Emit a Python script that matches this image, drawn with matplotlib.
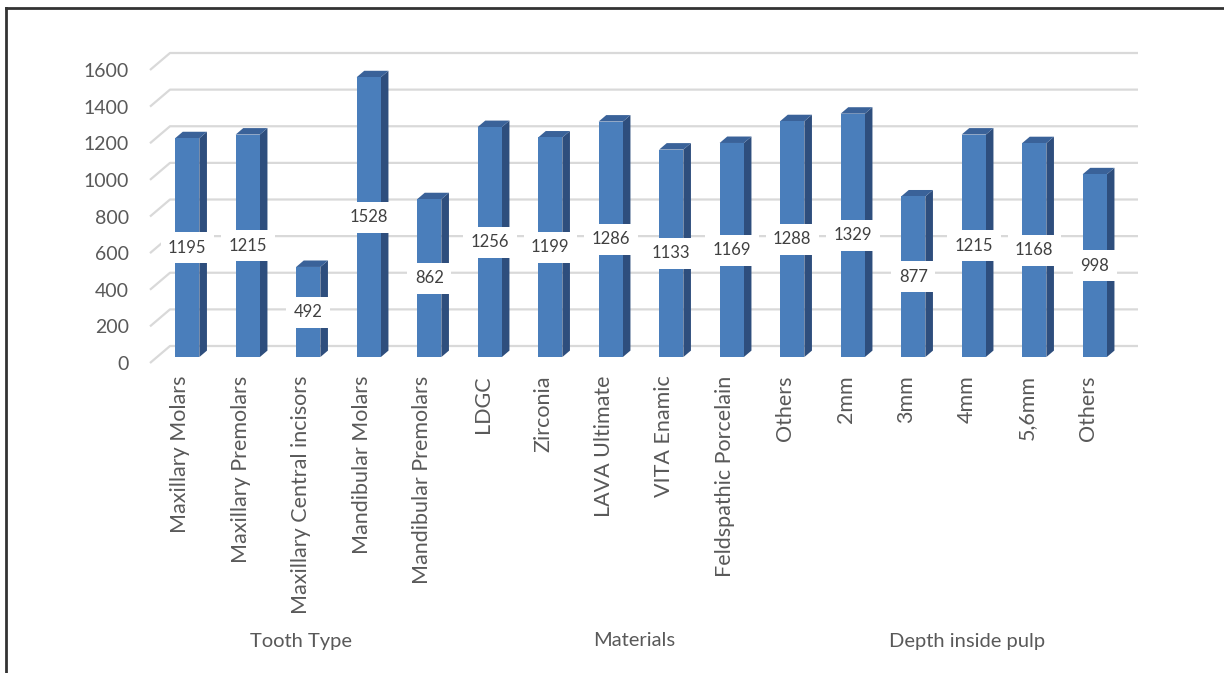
import matplotlib
matplotlib.use("Agg")
import matplotlib.pyplot as plt
from matplotlib.patches import Polygon
from matplotlib.lines import Line2D

categories = ["Maxillary Molars", "Maxillary Premolars", "Maxillary Central incisors",
              "Mandibular Molars", "Mandibular Premolars", "LDGC", "Zirconia",
              "LAVA Ultimate", "VITA Enamic", "Feldspathic Porcelain", "Others",
              "2mm", "3mm", "4mm", "5,6mm", "Others"]
values = [1195, 1215, 492, 1528, 862, 1256, 1199, 1286, 1133, 1169, 1288,
          1329, 877, 1215, 1168, 998]
groups = ["Tooth Type", "Materials", "Depth inside pulp"]
group_sizes = [5, 6, 5]
yticks = [0, 200, 400, 600, 800, 1000, 1200, 1400, 1600]

plt.rcParams['font.family'] = ['Lato', 'DejaVu Sans']

W, H = 1224, 673
fig = plt.figure(figsize=(W / 100, H / 100), dpi=100)

# axes front plane geometry (pixels)
left_px, right_px = 150, 1118
y0_px, ytop_px = 363, 70
ax = fig.add_axes([left_px / W, (H - y0_px) / H, (right_px - left_px) / W, (y0_px - ytop_px) / H])
n = len(categories)
ax.set_xlim(0, n)
ax.set_ylim(0, 1600)
for s in ax.spines.values():
    s.set_visible(False)

pxx = (right_px - left_px) / n
pxy = (y0_px - ytop_px) / 1600
DX = 20 / pxx
DY = 17 / pxy

grid_c = "#D9D9D9"
for v in yticks:
    ax.plot([0, DX, n + DX], [v, v + DY, v + DY], color=grid_c, lw=1.6,
            clip_on=False, zorder=1, solid_capstyle='butt')

front_c = "#4A7EBB"
side_c = "#2E4E7D"
top_c = "#3A6299"
bw = 0.4
f0, f1 = 0.35, 0.73
for i, v in enumerate(values):
    c = i + 0.5
    x0 = c - bw / 2 + f0 * DX
    x1 = c + bw / 2 + f0 * DX
    yb = f0 * DY
    yt = v + f0 * DY
    ddx = (f1 - f0) * DX
    ddy = (f1 - f0) * DY
    ax.add_patch(Polygon([[x1, yb], [x1 + ddx, yb + ddy], [x1 + ddx, yt + ddy], [x1, yt]],
                         closed=True, facecolor=side_c, edgecolor='none', zorder=3, clip_on=False))
    ax.add_patch(Polygon([[x0, yt], [x1, yt], [x1 + ddx, yt + ddy], [x0 + ddx, yt + ddy]],
                         closed=True, facecolor=top_c, edgecolor='none', zorder=3, clip_on=False))
    ax.add_patch(Polygon([[x0, yb], [x1, yb], [x1, yt], [x0, yt]],
                         closed=True, facecolor=front_c, edgecolor='none', zorder=4, clip_on=False))
    ax.text(c + f0 * DX, v / 2 + f0 * DY, str(v), ha='center', va='center', fontsize=12,
            color="#404040", zorder=6,
            bbox=dict(boxstyle='square,pad=0.45', facecolor='white', edgecolor='none'))

ax.set_yticks(yticks)
ax.set_yticklabels([str(t) for t in yticks], fontsize=14, color="#595959")
ax.set_xticks([i + 0.5 for i in range(n)])
ax.set_xticklabels(categories, rotation=90, fontsize=15.5, color="#595959", va='top', ha='center')
ax.tick_params(axis='y', length=0, pad=15)
ax.tick_params(axis='x', length=0, pad=9)

# group labels
start = 0
gy = (y0_px - 641) / pxy
for g, sz in zip(groups, group_sizes):
    ax.text(start + sz / 2, gy, g, ha='center', va='center', fontsize=14.5,
            color="#595959", clip_on=False)
    start += sz

# frame lines
fig.add_artist(Line2D([6 / W, 6 / W], [0, 1 - 8 / H], transform=fig.transFigure, color="#333333", lw=2))
fig.add_artist(Line2D([6 / W, 1], [1 - 8 / H, 1 - 8 / H], transform=fig.transFigure, color="#333333", lw=2))

fig.savefig("out.png", dpi=100, facecolor='white')
